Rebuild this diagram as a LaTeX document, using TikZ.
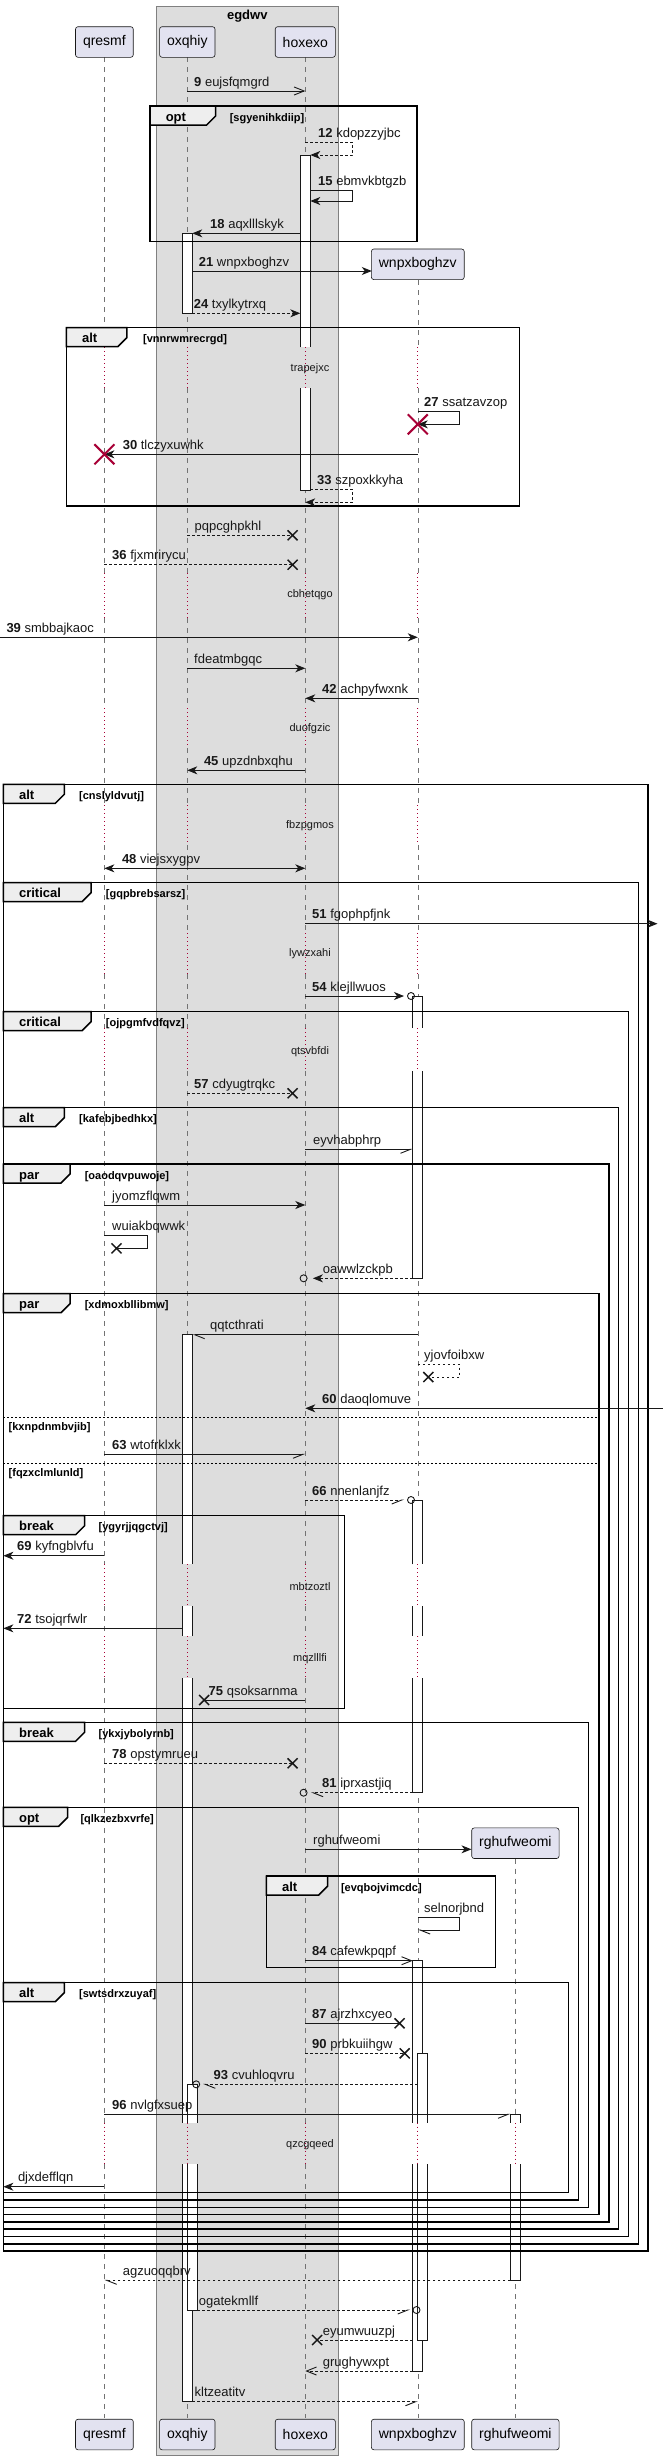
\documentclass[tikz,border=0pt]{standalone}
\usepackage{fontspec}
\setmainfont{Liberation Sans}
\usetikzlibrary{arrows.meta}
\definecolor{ink}{HTML}{181818}
\definecolor{pboxc}{HTML}{E2E2F0}
\definecolor{grpc}{HTML}{DDDDDD}
\definecolor{tabc}{HTML}{EEEEEE}
\definecolor{dred}{HTML}{A80036}
\def\xq{104.4}\def\xo{187.3}\def\xh{305.3}\def\xw{417.8}\def\xr{515.4}
\newcommand\Lb[3]{\node[lbl] at (#1,#2) {#3};}
\newcommand\Xm[2]{\draw[xst] (#1-5,#2-5) -- (#1+5,#2+5) (#1-5,#2+5) -- (#1+5,#2-5);}
\newcommand\Xr[2]{\draw[xred] (#1-10,#2-10) -- (#1+10,#2+10) (#1-10,#2+10) -- (#1+10,#2-10);}
\newcommand\Act[4]{\draw[act] (#1,#3) rectangle (#2,#4);}
\newcommand\ActT[4]{\fill[white] (#1,#3) rectangle (#2,#4);\draw[actl] (#1,#4) -- (#1,#3) -- (#2,#3) -- (#2,#4);}
\newcommand\ActB[4]{\fill[white] (#1,#3) rectangle (#2,#4);\draw[actl] (#1,#3) -- (#1,#4) -- (#2,#4) -- (#2,#3);}
\newcommand\ActO[4]{\fill[white] (#1,#3) rectangle (#2,#4);\draw[actl] (#1,#3) -- (#1,#4) (#2,#3) -- (#2,#4);}
\newcommand\Frm[8]{%
  \draw[frm] (#1,#2) rectangle (#3,#4);
  \filldraw[tabst] (#1,#2) -- (#5,#2) -- (#5,#2+10) -- (#5-9,#2+19) -- (#1,#2+19) -- cycle;
  \node[flabel] at (#1+15.5,#2+15) {#6};
  \node[guard] at (#7,#2+15) {#8};}
\begin{document}
\begin{tikzpicture}[x=1pt,y=-1pt,
  life/.style={draw=black!55, line width=0.5pt, dash pattern=on 5pt off 5pt},
  dly/.style={draw=dred, line width=0.8pt, dash pattern=on 1pt off 3pt},
  msg/.style={draw=ink, line width=0.9pt},
  dsh/.style={msg, dash pattern=on 2.5pt off 2.5pt},
  fa/.style={-{Stealth[length=10pt,width=8pt,inset=3pt]}},
  oa/.style={-{Straight Barb[length=10pt,width=8pt]}},
  hr/.style={-{Straight Barb[right,length=10pt,width=8pt]}},
  hl/.style={-{Straight Barb[left,length=10pt,width=8pt]}},
  lbl/.style={anchor=base west, inner sep=0pt, font=\fontsize{13}{15}\selectfont, text=ink},
  delayt/.style={inner sep=0pt, font=\fontsize{11}{13}\selectfont, text=ink},
  xst/.style={draw=ink, line width=1.5pt},
  xred/.style={draw=dred, line width=2pt},
  act/.style={fill=white, draw=ink, line width=0.9pt},
  actl/.style={draw=ink, line width=0.9pt},
  frm/.style={draw=black, line width=1.5pt},
  tabst/.style={fill=tabc, draw=black, line width=1.5pt},
  flabel/.style={anchor=base west, inner sep=0pt, font=\bfseries\fontsize{13}{15}\selectfont},
  guard/.style={anchor=base west, inner sep=0pt, font=\bfseries\fontsize{11}{13}\selectfont},
  pbox/.style={draw=ink, fill=pboxc, rounded corners=2.5pt, minimum height=30.6pt, inner xsep=7.5pt, font=\fontsize{14}{16}\selectfont, line width=0.6pt},
  sep/.style={draw=black, line width=1pt, dash pattern=on 2pt off 2pt}
]
\useasboundingbox (0,0) rectangle (663,2460);
\fill[white] (0,0) rectangle (663,2460);
% group box
\filldraw[fill=grpc, draw=black!50, line width=0.8pt] (156.4,6) rectangle (338.3,2455);
\node[font=\bfseries\fontsize{13}{15}\selectfont, anchor=base] (grp) at (247.3,19.5) {egdwv};
% lifelines
\foreach \x in {\xq,\xo,\xh} {
  \foreach \a/\b in {57.3/347.3, 388.3/573, 618/708, 748/805, 845/933, 974/1028, 1071/1564.3, 1606/1636, 1678/2122.7, 2164/2418.3}
    \draw[life] (\x,\a) -- (\x,\b);
}
\foreach \a/\b in {280.3/347.3, 388.3/573, 618/708, 748/805, 845/933, 974/1028, 1071/1564.3, 1606/1636, 1678/2122.7, 2164/2418.3}
  \draw[life] (\xw,\a) -- (\xw,\b);
\foreach \a/\b in {1858.7/2122.7, 2164/2418.3}
  \draw[life] (\xr,\a) -- (\xr,\b);
\foreach \x in {\xq,\xo,\xh,\xw} {
  \foreach \a/\b in {347.3/388.3, 573/618, 708/748, 805/845, 933/974, 1028/1071, 1564.3/1606, 1636/1678, 2122.7/2164}
    \draw[dly] (\x,\a) -- (\x,\b);
}
\draw[dly] (\xr,2122.7) -- (\xr,2164);
% participants
\node[pbox] (q) at (\xq,42) {qresmf};
\node[pbox] (o) at (\xo,42) {oxqhiy};
\node[pbox] (h) at (\xh,42) {hoxexo};
\node[pbox] (w) at (\xw,264.3) {wnpxboghzv};
\node[pbox] (r) at (\xr,1843.2) {rghufweomi};
\node[pbox] (q2) at (\xq,2434.5) {qresmf};
\node[pbox] (o2) at (\xo,2434.5) {oxqhiy};
\node[pbox] (h2) at (\xh,2434.5) {hoxexo};
\node[pbox] (w2) at (\xw,2434.5) {wnpxboghzv};
\node[pbox] (r2) at (\xr,2434.5) {rghufweomi};
\coordinate (wIn) at (371.8,271);
\coordinate (rIn) at (471.5,1849.3);
% activations
\ActT{300.3}{310.3}{155}{347.3}\ActB{300.3}{310.3}{388.3}{490}
\Act{182.3}{192.3}{233.3}{313.3}
\ActT{412.8}{422.8}{996}{1028}\ActB{412.8}{422.8}{1071}{1278.3}
\ActT{182.3}{192.3}{1334.7}{1564.3}\ActO{182.3}{192.3}{1606}{1636}\ActO{182.3}{192.3}{1678}{2122.7}\ActB{182.3}{192.3}{2164}{2401.7}
\ActT{412.8}{422.8}{1500}{1564.3}\ActO{412.8}{422.8}{1606}{1636}\ActB{412.8}{422.8}{1678}{1792.7}
\ActT{412.8}{422.8}{1960.7}{2122.7}\ActB{412.8}{422.8}{2164}{2371}
\ActT{417.8}{427.8}{2053.3}{2122.7}\ActB{417.8}{427.8}{2164}{2340}
\ActT{187.3}{197.3}{2084.3}{2122.7}\ActB{187.3}{197.3}{2164}{2310}
\ActT{510.4}{520.4}{2114.3}{2122.7}\ActB{510.4}{520.4}{2164}{2280.3}
% frames
\Frm{150.1}{106}{416.9}{241.3}{215.6}{opt}{229.6}{[sgyenihkdiip]}
\Frm{66.4}{327.7}{519.7}{506}{126.8}{alt}{143}{[vnnrwmrecrgd]}
\Frm{3.4}{784.3}{648.2}{2251.1}{64.3}{alt}{79}{[cnslyldvutj]}
\Frm{3.4}{882.7}{638.5}{2243.8}{91}{critical}{105.7}{[gqpbrebsarsz]}
\Frm{3.4}{1011.7}{628.7}{2236.5}{91}{critical}{105.7}{[ojpgmfvdfqvz]}
\Frm{3.4}{1107.7}{618.6}{2229.2}{64.3}{alt}{79}{[kafebjbedhkx]}
\Frm{3.4}{1164}{608.9}{2221.9}{70}{par}{84.6}{[oaodqvpuwoje]}
\Frm{3.4}{1293.7}{599.2}{2214.6}{70}{par}{84.6}{[xdmoxbllibmw]}
\draw[sep] (3.4,1417.3) -- (599.2,1417.3);
\node[guard] at (8.5,1430.5) {[kxnpdnmbvjib]};
\draw[sep] (3.4,1463.3) -- (599.2,1463.3);
\node[guard] at (8.5,1476.5) {[fqzxclmlunld]};
\Frm{3.4}{1515.7}{344.6}{1708.3}{84.6}{break}{98.5}{[ygyrjjqgctvj]}
\Frm{3.4}{1722.3}{588.6}{2207.3}{84.6}{break}{98.5}{[ykxjybolyrnb]}
\Frm{3.4}{1807.3}{578.4}{2200}{67.7}{opt}{80.3}{[qlkzezbxvrfe]}
\Frm{266.4}{1876}{495.6}{1967.7}{327.7}{alt}{340.8}{[evqbojvimcdc]}
\Frm{3.4}{1982.7}{568.7}{2192.7}{64.3}{alt}{79}{[swtsdrxzuyaf]}
% delays
\node[delayt] (d1) at (310,368.3) {trapejxc};
\node[delayt] (d2) at (310,595) {cbhetqgo};
\node[delayt] (d3) at (310,728.3) {duofgzic};
\node[delayt] (d4) at (310,825.7) {fbzpgmos};
\node[delayt] (d5) at (310,954) {lywzxahi};
\node[delayt] (d6) at (310,1051.7) {qtsvbfdi};
\node[delayt] (d7) at (310,1586.7) {mbtzoztl};
\node[delayt] (d8) at (310,1659) {mqzlllfi};
\node[delayt] (d9) at (310,2144.3) {qzcgqeed};
% messages
\draw[msg,oa] (\xo,91) -- (\xh,91); \Lb{194}{86}{\textbf{9} eujsfqmgrd}
\draw[dsh,fa] (\xh,142.3) -- (352.6,142.3) -- (352.6,155) -- (310.3,155); \Lb{318}{137.3}{\textbf{12} kdopzzyjbc}
\draw[msg,fa] (310.3,190.7) -- (352.6,190.7) -- (352.6,201) -- (310.3,201); \Lb{318}{185.7}{\textbf{15} ebmvkbtgzb}
\draw[msg,fa] (300.3,233.3) -- (192.3,233.3); \Lb{210}{228.3}{\textbf{18} aqxlllskyk}
\draw[msg,fa] (192.3,271) -- (wIn); \Lb{198.7}{266}{\textbf{21} wnpxboghzv}
\draw[dsh,fa] (192.3,313.3) -- (300.3,313.3); \Lb{193.7}{308.3}{\textbf{24} txylkytrxq}
\draw[msg,fa] (\xw,411.7) -- (459.6,411.7) -- (459.6,424.3) -- (\xw,424.3); \Xr{\xw}{424.3} \Lb{424}{406.7}{\textbf{27} ssatzavzop}
\draw[msg,fa] (\xw,454.3) -- (\xq,454.3); \Xr{\xq}{454.3} \Lb{122.6}{449.3}{\textbf{30} tlczyxuwhk}
\draw[dsh,fa] (310.3,489.3) -- (352.6,489.3) -- (352.6,502.3) -- (\xh,502.3); \Lb{317}{484.3}{\textbf{33} szpoxkkyha}
\draw[dsh] (\xo,535.3) -- (292.6,535.3); \Xm{292.6}{535.3} \Lb{194.5}{530.3}{pqpcghpkhl}
\draw[dsh] (\xq,564.7) -- (292.6,564.7); \Xm{292.6}{564.7} \Lb{112}{559.7}{\textbf{36} fjxmrirycu}
\draw[msg,fa] (0,637.3) -- (\xw,637.3); \Lb{6.3}{632.3}{\textbf{39} smbbajkaoc}
\draw[msg,fa] (\xo,668.3) -- (\xh,668.3); \Lb{194}{663.3}{fdeatmbgqc}
\draw[msg,fa] (\xw,698.3) -- (\xh,698.3); \Lb{322}{693.3}{\textbf{42} achpyfwxnk}
\draw[msg,fa] (\xh,770.3) -- (\xo,770.3); \Lb{203.8}{765.3}{\textbf{45} upzdnbxqhu}
\draw[msg,{Stealth[length=10pt,width=8pt,inset=3pt]}-{Stealth[length=10pt,width=8pt,inset=3pt]}] (\xq,868.3) -- (\xh,868.3); \Lb{121.8}{863.3}{\textbf{48} viejsxygpv}
\draw[msg,fa] (\xh,923.7) -- (657.5,923.7); \Lb{312}{918.7}{\textbf{51} fgophpfjnk}
\draw[msg,fa] (\xh,996) -- (404,996); \draw[msg] (411,996) circle (3.5); \Lb{312}{991}{\textbf{54} klejllwuos}
\draw[dsh] (\xo,1093.3) -- (292.6,1093.3); \Xm{292.6}{1093.3} \Lb{194}{1088.3}{\textbf{57} cdyugtrqkc}
\draw[msg,hr] (\xh,1149.3) -- (412.8,1149.3); \Lb{313}{1144.3}{eyvhabphrp}
\draw[msg,fa] (\xq,1205) -- (\xh,1205); \Lb{112}{1200}{jyomzflqwm}
\draw[msg] (\xq,1235) -- (147.6,1235) -- (147.6,1248.3) -- (116.5,1248.3); \Xm{116.5}{1248.3} \Lb{112}{1230}{wuiakbqwwk}
\draw[dsh,fa] (412.8,1278.3) -- (312.9,1278.3); \draw[msg] (303.6,1278.3) circle (3.5); \Lb{322.6}{1273.3}{oawwlzckpb}
\draw[msg,hl] (\xw,1334.7) -- (192.3,1334.7); \Lb{210}{1329.7}{qqtcthrati}
\draw[dsh] (\xw,1364.3) -- (459.6,1364.3) -- (459.6,1377) -- (428.3,1377); \Xm{428.3}{1377} \Lb{424}{1359.3}{yjovfoibxw}
\draw[msg,fa] (663,1408.3) -- (\xh,1408.3); \Lb{322}{1403.3}{\textbf{60} daoqlomuve}
\draw[msg,hr] (\xq,1454.3) -- (\xh,1454.3); \Lb{112}{1449.3}{\textbf{63} wtofrklxk}
\draw[dsh,hr] (\xh,1500) -- (404,1500); \draw[msg] (411,1500) circle (3.5); \Lb{312}{1495}{\textbf{66} nnenlanjfz}
\draw[msg,fa] (\xq,1555.7) -- (3.4,1555.7); \Lb{17}{1550.7}{\textbf{69} kyfngblvfu}
\draw[msg,fa] (182.3,1628.3) -- (3.4,1628.3); \Lb{17}{1623.3}{\textbf{72} tsojqrfwlr}
\draw[msg] (\xh,1700) -- (204.2,1700); \Xm{204.2}{1700} \Lb{208.5}{1695}{\textbf{75} qsoksarnma}
\draw[dsh] (\xq,1763.3) -- (292.6,1763.3); \Xm{292.6}{1763.3} \Lb{112}{1758.3}{\textbf{78} opstymrueu}
\draw[dsh,hl] (412.8,1792.7) -- (310.8,1792.7); \draw[msg] (303.6,1792.7) circle (3.5); \Lb{322}{1787.7}{\textbf{81} iprxastjiq}
\draw[msg,fa] (\xh,1849.3) -- (rIn); \Lb{313}{1844.3}{rghufweomi}
\draw[msg,hl] (\xw,1917.3) -- (459.6,1917.3) -- (459.6,1930) -- (\xw,1930); \Lb{424}{1912.3}{selnorjbnd}
\draw[msg,oa] (\xh,1960.7) -- (412.8,1960.7); \Lb{312}{1955.7}{\textbf{84} cafewkpqpf}
\draw[msg] (\xh,2023.3) -- (399.6,2023.3); \Xm{399.6}{2023.3} \Lb{312}{2018.3}{\textbf{87} ajrzhxcyeo}
\draw[dsh] (\xh,2053.3) -- (404.7,2053.3); \Xm{404.7}{2053.3} \Lb{312}{2048.3}{\textbf{90} prbkuiihgw}
\draw[dsh,hl] (417.8,2084.3) -- (203,2084.3); \draw[msg] (196.2,2084.3) circle (3.5); \Lb{213.5}{2079.3}{\textbf{93} cvuhloqvru}
\draw[msg,hr] (\xq,2114.3) -- (510.4,2114.3); \Lb{112}{2109.3}{\textbf{96} nvlgfxsuep}
\draw[msg,fa] (\xq,2186.7) -- (3.4,2186.7); \Lb{17.8}{2181.7}{djxdefflqn}
\draw[dsh,hl] (510.4,2280.3) -- (\xq,2280.3); \Lb{122.6}{2275.3}{agzuoqqbrv}
\draw[dsh,hr] (197.3,2310) -- (410,2310); \draw[msg] (416.5,2310) circle (3.5); \Lb{198.7}{2305}{ogatekmllf}
\draw[dsh] (412.8,2340) -- (317.1,2340); \Xm{317.1}{2340} \Lb{322.6}{2335}{eyumwuuzpj}
\draw[dsh,oa] (412.8,2371) -- (\xh,2371); \Lb{322.6}{2366}{grughywxpt}
\draw[dsh,hr] (192.3,2401.7) -- (\xw,2401.7); \Lb{194.5}{2396.7}{kltzeatitv}
\end{tikzpicture}
\end{document}
